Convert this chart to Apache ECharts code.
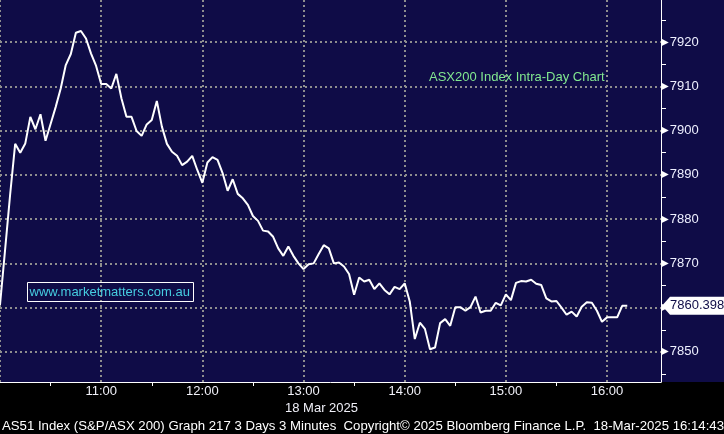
<!DOCTYPE html>
<html><head><meta charset="utf-8">
<script src="https://cdn.jsdelivr.net/npm/echarts@6/dist/echarts.min.js"></script>
<style>
html,body{margin:0;padding:0;background:#000;}
#c{width:724px;height:434px;background:linear-gradient(to bottom,#0f0c47 0px,#0f0c47 382px,#000 382px,#000 434px);}
</style>
</head><body><div id="c"></div>
<script>
// ---- data ----
const startTime = '10:00';
const stepMinutes = 3;
const values = [
  7860.6, 7873.0, 7885.5, 7897.0, 7895.0, 7897.1, 7903.1, 7900.3, 7903.7, 7897.7,
  7901.5, 7905.3, 7909.5, 7914.8, 7917.3, 7922.1, 7922.5, 7920.8, 7917.4, 7914.6,
  7910.5, 7910.5, 7909.5, 7912.8, 7907.3, 7903.1, 7903.1, 7899.9, 7898.8, 7901.4,
  7902.4, 7906.7, 7900.9, 7897.0, 7895.2, 7894.3, 7892.2, 7893.0, 7894.3, 7891.1,
  7888.2, 7892.8, 7894.0, 7893.4, 7890.4, 7886.4, 7889.0, 7885.7, 7884.7, 7883.2,
  7880.7, 7879.6, 7877.4, 7877.2, 7876.0, 7873.4, 7871.7, 7873.8, 7871.7, 7870.0,
  7868.7, 7869.8, 7870.0, 7872.1, 7874.1, 7873.4, 7870.0, 7870.2, 7869.3, 7867.6,
  7862.9, 7866.8, 7865.9, 7866.3, 7864.2, 7865.5, 7864.0, 7863.0, 7864.7, 7864.2,
  7865.5, 7861.4, 7852.9, 7856.6, 7855.2, 7850.6, 7851.0, 7856.5, 7857.4, 7855.9,
  7860.1, 7860.1, 7859.3, 7860.1, 7862.5, 7858.9, 7859.3, 7859.3, 7861.1, 7860.5,
  7863.0, 7861.7, 7865.6, 7866.0, 7865.9, 7866.3, 7865.4, 7865.1, 7862.1, 7861.4,
  7861.5, 7860.0, 7858.4, 7859.1, 7858.0, 7860.2, 7861.2, 7861.1, 7859.3, 7856.8,
  7857.8, 7857.8, 7857.8, 7860.4, 7860.398
];
const hourLabels = ['11:00', '12:00', '13:00', '14:00', '15:00', '16:00'];
const lastPrice = 7860.398;
const titleText = 'ASX200 Index Intra-Day Chart';
const watermarkText = 'www.marketmatters.com.au';
const dateText = '18 Mar 2025';
const footerText = 'AS51 Index (S&P/ASX 200) Graph 217 3 Days 3 Minutes  Copyright\u00a9 2025 Bloomberg Finance L.P.  18-Mar-2025 16:14:43';

// ---- build ----
const startMin = 0;
const endMin = 392;
const seriesData = values.map((v, i) => [startMin + i * stepMinutes, v]);

const FONT = 'Liberation Sans';
const chart = echarts.init(document.getElementById('c'), null, {renderer: 'canvas'});

const option = {
  backgroundColor: 'transparent',
  animation: false,
  title: {
    text: titleText, left: 424, top: 66,
    textStyle: {color: '#82e890', fontSize: 13, fontWeight: 'normal', fontFamily: FONT}
  },
  grid: [
    {left: 0, top: 0, right: 63, bottom: 52, containLabel: false},
    {left: 0, top: 0, right: 63 + (endMin - 360) * 661 / endMin, bottom: 52, containLabel: false}
  ],
  xAxis: [
    {
      type: 'value', gridIndex: 0, min: startMin, max: endMin, interval: 60,
      axisLine: {show: true, onZero: false, lineStyle: {color: '#ffffff', width: 1}},
      axisTick: {show: false},
      axisLabel: {
        color: '#f0f0f8', fontSize: 13, fontFamily: FONT, margin: 3,
        showMinLabel: false, showMaxLabel: false,
        formatter: v => (v > 0 && v % 60 === 0) ? (hourLabels[v / 60 - 1] || '') : ''
      },
      splitLine: {show: true, showMinLine: true, showMaxLine: false,
        lineStyle: {color: '#8e8e8e', width: 2, type: [2, 3]}}
    },
    {
      type: 'value', gridIndex: 1, min: 0, max: 360, interval: 60,
      axisLine: {show: false, onZero: false}, axisTick: {show: false}, axisLabel: {show: false},
      splitLine: {show: false},
      minorTick: {show: true, splitNumber: 2, length: 4, lineStyle: {color: '#ffffff', width: 1}}
    }
  ],
  yAxis: [
    {
      type: 'value', gridIndex: 0, position: 'right', min: 7843.2, max: 7929.5,
      splitNumber: 8, minInterval: 10, maxInterval: 10,
      axisLine: {show: true, onZero: false, lineStyle: {color: '#ffffff', width: 1}},
      axisTick: {show: false},
      minorTick: {show: true, splitNumber: 2, length: 5, lineStyle: {color: '#ffffff', width: 1}},
      axisLabel: {
        margin: 0, showMinLabel: false, showMaxLabel: false,
        formatter: v => '{t|\u25B6}{v|' + v + '}',
        rich: {
          t: {color: '#ffffff', fontSize: 10, fontFamily: 'DejaVu Sans', padding: [0, 1, 0, 0]},
          v: {color: '#eef0ff', fontSize: 13, fontFamily: FONT}
        }
      },
      splitLine: {show: true, showMinLine: false, showMaxLine: false,
        lineStyle: {color: '#8e8e8e', width: 2, type: [2, 3]}}
    },
    {
      type: 'value', gridIndex: 1, min: 7843.2, max: 7929.5, show: false,
      axisLine: {onZero: false}
    }
  ],
  series: [{
    type: 'line', xAxisIndex: 0, yAxisIndex: 0,
    data: seriesData, showSymbol: false, symbol: 'none',
    lineStyle: {color: '#ffffff', width: 2},
    z: 5
  }]
};
chart.setOption(option);

// overlay elements positioned with the library's scales
const yLast = chart.convertToPixel({yAxisIndex: 0}, lastPrice);
const axisX = 724 - 63;
chart.setOption({
  graphic: [
    {
      type: 'group', left: 27, top: 282, z: 10,
      children: [
        {type: 'rect', shape: {x: 0, y: 0, width: 166, height: 19},
          style: {fill: 'transparent', stroke: '#ffffff', lineWidth: 1}},
        {type: 'text', x: 2, y: 10,
          style: {text: watermarkText, fill: '#46cde0', font: '13px "Liberation Sans"', verticalAlign: 'middle'}}
      ]
    },
    {
      type: 'polygon', z: 20,
      shape: {points: [[axisX + 1, yLast], [axisX + 9, yLast - 9], [724, yLast - 9], [724, yLast + 9], [axisX + 9, yLast + 9]]},
      style: {fill: '#ffffff'}
    },
    {
      type: 'text', z: 21, x: axisX + 9, y: yLast,
      style: {text: lastPrice.toFixed(3), fill: '#0f0c47', font: '13px "Liberation Sans"', verticalAlign: 'middle'}
    },
    {
      type: 'text', z: 10, x: 285, y: 408,
      style: {text: dateText, fill: '#f0f0f8', font: '13px "Liberation Sans"', verticalAlign: 'middle'}
    },
    {
      type: 'text', z: 10, x: 2, y: 426,
      style: {text: footerText, fill: '#ffffff', font: '13.2px "Liberation Sans"', verticalAlign: 'middle'}
    }
  ]
});
</script>
</body></html>
